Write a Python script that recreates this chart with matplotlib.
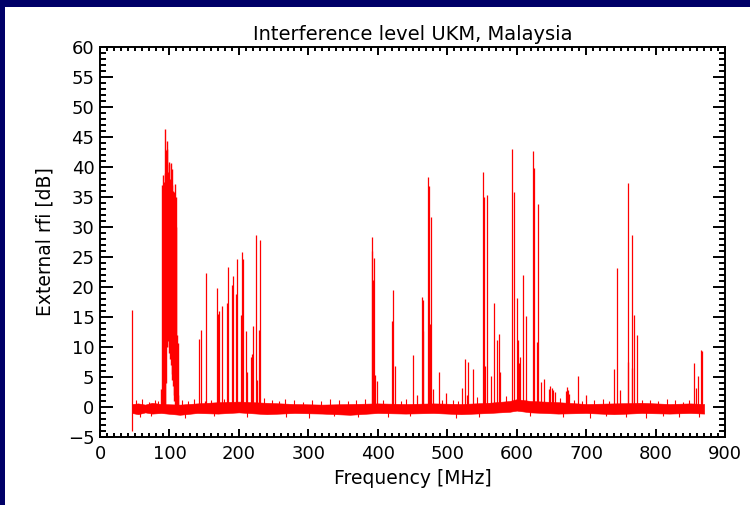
import numpy as np
import matplotlib.pyplot as plt
from matplotlib.patches import Rectangle
from matplotlib.ticker import MultipleLocator

# --------------------------
# Data (frequency in MHz, level in dB)
# --------------------------
# noise floor band (lower / upper edge)
floor_freq = [46, 55, 65, 75, 88, 115, 140, 170, 200, 240, 280, 320, 360, 400,
              440, 480, 520, 560, 590, 600, 620, 660, 700, 740, 780, 820, 850, 870]
floor_lo = [-1.0, -1.2, -0.9, -1.1, -1.0, -1.3, -1.0, -1.1, -0.9, -1.2, -1.0, -1.1, -1.3, -1.0,
            -1.1, -1.0, -1.2, -1.0, -0.8, -0.6, -0.9, -1.1, -1.0, -1.2, -1.0, -1.1, -1.0, -1.1]
floor_hi = [0.5, 0.6, 0.4, 0.7, 0.5, 0.4, 0.6, 0.8, 0.9, 0.7, 0.5, 0.4, 0.5, 0.6,
            0.5, 0.6, 0.5, 0.7, 1.0, 1.3, 1.0, 0.8, 0.5, 0.6, 0.7, 0.5, 0.6, 0.5]

# FM broadcast band, dense block of carriers
fm_freq = [88.5, 89, 90, 91, 92, 93, 94, 95, 96, 97, 98, 99, 100, 101, 102, 103,
           104, 105, 106, 107, 108, 109, 110, 111, 112, 112.5]
fm_top = [3.0, 37.0, 38.7, 36.0, 37.5, 39.0, 46.4, 42.8, 44.3, 43.0, 39.2, 40.5, 40.9,
          38.0, 40.7, 37.0, 39.7, 36.0, 35.8, 33.0, 37.1, 30.0, 35.0, 12.0, 10.7, 2.0]
fm_bot = [-0.5, -0.5, -0.5, -0.5, -0.5, -0.5, 0.0, 4.0, 10.0, 12.5, 11.0, 10.0, 9.0,
          8.0, 7.0, 5.5, 4.5, 3.5, 2.0, 1.0, -0.5, -0.5, -0.5, -0.5, -0.5, -0.5]

# single carriers (frequency, peak level)
spike_freq = [143.0, 144.9, 151.5, 152.6, 169.0, 169.8, 171.8, 175.7, 182.9, 183.8,
              190.0, 190.9, 195.8, 196.8, 203.0, 204.8, 205.6, 209.8, 211.0, 217.0,
              218.3, 219.9, 225.1, 226.5, 229.5, 230.9,
              391.2, 392.2, 393.1, 394.0, 396.0, 398.5, 420.6, 421.5, 425.0, 450.3,
              457.0, 463.7, 464.6, 465.6, 471.9, 473.3, 474.5, 476.2, 480.0, 487.7,
              498.0, 521.0, 525.1, 529.0, 530.4, 537.1, 551.0, 552.9, 554.8, 557.8,
              563.0, 567.8, 571.0, 574.1, 575.5, 592.8, 596.6, 600.5, 601.5, 603.8,
              605.3, 608.6, 614.0, 623.1, 624.5, 628.8, 630.3, 634.7, 640.0, 646.7,
              648.5, 650.5, 652.0, 654.5, 670.5, 672.5, 674.0, 676.0, 688.9, 700.0,
              739.7, 744.5, 749.5, 760.0, 760.8, 766.1, 766.6, 769.0, 773.8,
              855.8, 858.2, 860.5, 865.5, 866.8]
spike_top = [11.4, 12.9, 1.0, 22.3, 19.9, 15.5, 16.0, 16.9, 17.4, 23.4,
             20.4, 21.9, 18.8, 24.6, 15.3, 25.8, 24.6, 12.6, 5.8, 8.4,
             8.9, 13.5, 28.7, 4.5, 12.8, 27.9,
             28.3, 26.0, 21.2, 24.8, 5.4, 4.3, 14.3, 19.5, 6.8, 8.6,
             2.0, 18.4, 17.9, 12.6, 38.3, 36.8, 13.9, 31.6, 3.0, 5.9,
             2.3, 3.2, 8.0, 2.0, 7.5, 6.3, 39.1, 35.0, 6.9, 35.3,
             5.1, 17.3, 11.2, 12.2, 5.9, 43.0, 35.9, 18.2, 11.2, 7.4,
             8.4, 22.0, 15.2, 42.7, 39.8, 10.9, 33.9, 4.2, 4.6, 3.0,
             3.5, 3.2, 2.8, 2.5, 2.6, 3.4, 2.9, 2.2, 5.1, 2.0,
             6.3, 23.1, 2.9, 7.5, 37.4, 28.7, 6.5, 15.4, 12.0,
             7.4, 3.1, 5.1, 9.5, 9.3]

# small ripples on the noise floor
ripple_freq = [52, 61, 70, 79, 84, 118, 127, 135, 160, 178, 236, 247, 258, 266, 279, 292,
               305, 318, 331, 344, 357, 369, 381, 408, 433, 441, 493, 508, 515, 543, 584,
               613, 663, 683, 694, 712, 725, 733, 781, 792, 803, 816, 828, 839, 848]
ripple_top = [1.1, 1.3, 0.9, 1.2, 1.0, 1.2, 1.0, 1.4, 1.1, 1.3, 1.5, 1.2, 1.0, 1.3, 1.1, 0.9,
              1.2, 1.0, 1.3, 1.1, 1.0, 1.2, 1.4, 1.2, 1.0, 1.3, 1.1, 1.2, 1.0, 1.6, 1.8,
              1.4, 1.5, 1.2, 1.0, 1.1, 1.3, 1.0, 1.2, 1.1, 1.0, 1.3, 1.1, 0.9, 1.2]
dip_freq = [58, 73, 122, 164, 212, 268, 301, 337, 372, 415, 447, 512, 546, 619, 667,
            706, 728, 757, 786, 811, 834, 862]
dip_bot = [-1.6, -1.5, -1.8, -1.5, -1.7, -1.6, -1.9, -1.5, -1.7, -1.6, -1.5, -1.8, -1.6,
           -1.5, -1.7, -1.9, -1.5, -1.6, -1.8, -1.5, -1.7, -1.6]

# first carrier at the band edge (dips below the floor)
edge_freq = [46.0]
edge_bot = [-4.0]
edge_top = [16.2]

# --------------------------
# Figure
# --------------------------
red = '#ff0000'
navy = '#000068'

fig = plt.figure(figsize=(7.5, 5.05), dpi=100)
fig.patch.set_facecolor(navy)
fig.add_artist(Rectangle((5 / 750, 0), 1, 1 - 7 / 505, transform=fig.transFigure,
                         facecolor='white', edgecolor='none', zorder=0))

ax = fig.add_axes([100 / 750, 1 - 437 / 505, 625 / 750, 390 / 505])
ax.set_facecolor('white')

ax.fill_between(floor_freq, floor_lo, floor_hi, color=red, lw=0.4)
ax.vlines(fm_freq, fm_bot, fm_top, colors=red, lw=1.0)
ax.vlines(spike_freq, 0, spike_top, colors=red, lw=0.9)
ax.vlines(ripple_freq, 0, ripple_top, colors=red, lw=0.8)
ax.vlines(dip_freq, dip_bot, 0, colors=red, lw=0.8)
ax.vlines(edge_freq, edge_bot, edge_top, colors=red, lw=0.9)

ax.set_xlim(0, 900)
ax.set_ylim(-5, 60)
ax.xaxis.set_major_locator(MultipleLocator(100))
ax.xaxis.set_minor_locator(MultipleLocator(10))
ax.yaxis.set_major_locator(MultipleLocator(5))
ax.yaxis.set_minor_locator(MultipleLocator(1))

for s in ax.spines.values():
    s.set_linewidth(1.4)
    s.set_color('black')

ax.tick_params(which='both', direction='in', top=True, right=True, width=1.4,
               labelsize=13, colors='black')
ax.tick_params(axis='x', which='major', length=6, pad=6)
ax.tick_params(axis='x', which='minor', length=3)
ax.tick_params(axis='y', which='major', length=9, pad=4)
ax.tick_params(axis='y', which='minor', length=4.5)

ax.set_title('Interference level UKM, Malaysia', fontsize=14, pad=5)
ax.set_xlabel('Frequency [MHz]', fontsize=13.5, va='center')
ax.set_ylabel('External rfi [dB]', fontsize=13.5, va='center')
ax.xaxis.set_label_coords(0.5, -(478 - 437) / 390)
ax.yaxis.set_label_coords(-(100 - 45) / 625, 0.5)

fig.savefig('out.png', dpi=100, facecolor=fig.get_facecolor())
